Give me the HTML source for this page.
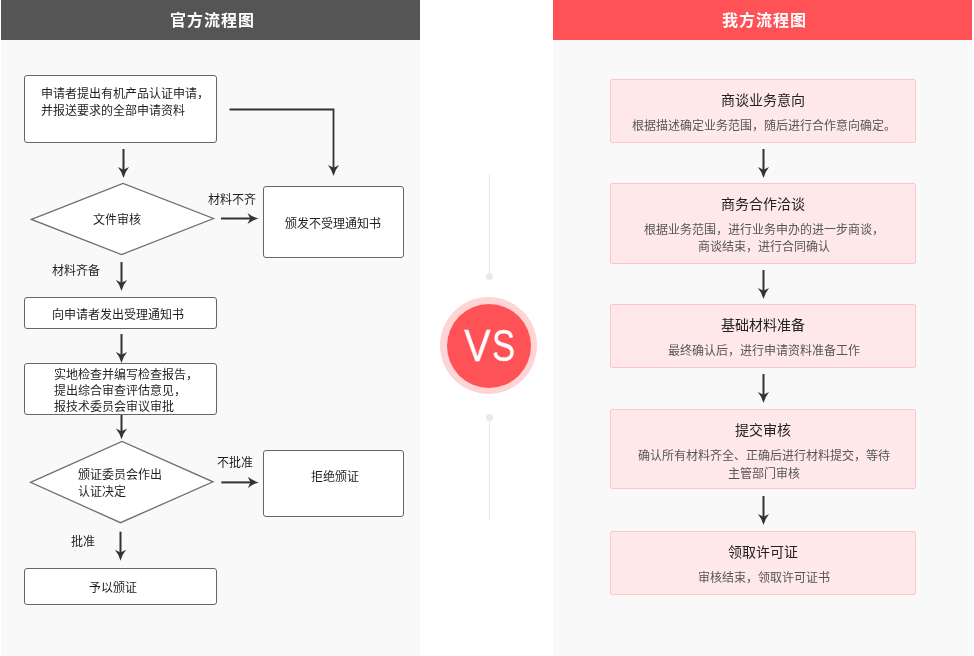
<!DOCTYPE html>
<html lang="zh-CN">
<head>
<meta charset="utf-8">
<title>流程图对比</title>
<style>
html,body{margin:0;padding:0;background:#fff;}
body{width:974px;height:656px;position:relative;overflow:hidden;font-family:"Liberation Sans","Noto Sans CJK SC",sans-serif;font-size:12px;color:#333;}
.panel{position:absolute;top:0;height:656px;width:419px;background:#f9f9f9;}
.panel.left{left:1px;}
.panel.right{left:553px;}
.hd{position:absolute;left:0;top:0;width:100%;height:40px;line-height:42px;text-align:center;text-indent:5px;color:#fff;font-size:16px;font-weight:bold;letter-spacing:1px;font-family:"Liberation Sans","Noto Sans CJK SC",sans-serif;}
.hd span{display:inline-block;text-indent:0;will-change:transform;}
.left .hd{background:#555;}
.right .hd{background:#ff5256;}
.abs{position:absolute;}
.fbox{position:absolute;box-sizing:border-box;background:#fff;border:1px solid #666;border-radius:3px;}
.t{will-change:transform;position:absolute;white-space:nowrap;font-size:12px;line-height:16px;color:#1e1e1e;}
.step{position:absolute;left:610px;width:306px;box-sizing:border-box;background:#ffe8ea;border:1px solid #ffc6c8;border-radius:2px;text-align:center;}
.step h3{will-change:transform;margin:0;font-weight:normal;font-size:14px;line-height:20px;color:#222;position:absolute;left:0;right:0;top:10px;}
.step p{will-change:transform;margin:0;font-size:12px;line-height:17px;color:#555;position:absolute;left:1px;right:-1px;top:38px;}
svg{position:absolute;left:0;top:0;}
.vs{position:absolute;left:440px;top:297px;width:97.3px;height:97.3px;border-radius:50%;background:#ffd4d5;color:#fff;}
.vs:before{content:"";position:absolute;left:6.5px;top:6.5px;width:84.3px;height:84.3px;border-radius:50%;background:#ff5256;}
.vs span{will-change:transform;position:absolute;top:24.3px;-webkit-text-stroke:.3px #fff;font-family:"Liberation Sans",sans-serif;font-size:44.5px;line-height:50px;transform-origin:0 0;}
.vs .v{left:24.2px;transform:scaleX(.9);}
.vs .s{left:52.2px;transform:scaleX(.776);}
</style>
</head>
<body>
<div class="panel left"><div class="hd"><span>官方流程图</span></div></div>
<div class="panel right"><div class="hd"><span>我方流程图</span></div></div>

<!-- left flow boxes -->
<div class="fbox" style="left:24px;top:75px;width:193px;height:68px;"></div>
<div class="fbox" style="left:263px;top:186px;width:141px;height:72px;"></div>
<div class="fbox" style="left:24px;top:297px;width:193px;height:32px;"></div>
<div class="fbox" style="left:24px;top:363px;width:193px;height:52px;"></div>
<div class="fbox" style="left:263px;top:450px;width:141px;height:67px;"></div>
<div class="fbox" style="left:24px;top:568px;width:193px;height:37px;"></div>

<svg width="974" height="656" viewBox="0 0 974 656">
  <defs>
    <g id="ad"><rect x="-1" y="0" width="2" height="22" fill="#333"/><path d="M0 29 Q-1.8 22.5 -5.6 18 L0 20.7 L5.6 18 Q1.8 22.5 0 29 Z" fill="#333"/></g>
    <g id="ar"><rect x="0" y="-1" width="30" height="2" fill="#333"/><path d="M37.5 0 Q31 -1.8 26.5 -5.6 L29.2 0 L26.5 5.6 Q31 1.8 37.5 0 Z" fill="#333"/></g>
  </defs>
  <!-- diamonds -->
  <polygon points="31.5,219.4 123,183.5 213.5,218.5 121.5,254.5" fill="#fff" stroke="#6e6e6e" stroke-width="1.3"/>
  <polygon points="30.5,482.3 122,441.4 213,481.8 120.5,522.7" fill="#fff" stroke="#6e6e6e" stroke-width="1.3"/>
  <!-- elbow -->
  <path d="M229.5 109.5 H333.5 V168" fill="none" stroke="#333" stroke-width="1.8"/>
  <path d="M333.5 176 Q331.7 169.5 327.9 165 L333.5 167.7 L339.1 165 Q335.3 169.5 333.5 176 Z" fill="#333"/>
  <!-- down arrows left -->
  <use href="#ad" x="123.5" y="149"/>
  <use href="#ad" x="121.5" y="262"/>
  <use href="#ad" x="121.5" y="334"/>
  <rect x="120.5" y="415" width="2" height="18" fill="#333"/><path d="M121.5 439.5 Q119.7 433 115.9 428.5 L121.5 431.2 L127.1 428.5 Q123.3 433 121.5 439.5 Z" fill="#333"/>
  <use href="#ad" x="120.5" y="531.7"/>
  <!-- right arrows -->
  <use href="#ar" x="221" y="218.5"/>
  <use href="#ar" x="221.3" y="482.4"/>
  <!-- right panel arrows -->
  <use href="#ad" x="763.5" y="149"/>
  <use href="#ad" x="763.5" y="270"/>
  <use href="#ad" x="763.5" y="374"/>
  <use href="#ad" x="763.5" y="496"/>
  <!-- vs lines -->
  <rect x="489" y="174" width="1" height="100" fill="#e9e9e9"/>
  <circle cx="489.5" cy="276.5" r="3.5" fill="#e9e9e9"/>
  <rect x="489" y="420" width="1" height="100" fill="#e9e9e9"/>
  <circle cx="489.5" cy="417.5" r="3.5" fill="#e9e9e9"/>
</svg>

<!-- left flow text -->
<div class="t" style="left:41px;top:86px;line-height:17px;">申请者提出有机产品认证申请，<br>并报送要求的全部申请资料</div>
<div class="t" style="left:93px;top:212px;">文件审核</div>
<div class="t" style="left:208px;top:192px;">材料不齐</div>
<div class="t" style="left:285px;top:216px;">颁发不受理通知书</div>
<div class="t" style="left:52px;top:263px;">材料齐备</div>
<div class="t" style="left:52px;top:307px;">向申请者发出受理通知书</div>
<div class="t" style="left:54px;top:367px;">实地检查并编写检查报告，<br>提出综合审查评估意见，<br>报技术委员会审议审批</div>
<div class="t" style="left:78px;top:467px;line-height:17px;">颁证委员会作出<br>认证决定</div>
<div class="t" style="left:217px;top:455px;">不批准</div>
<div class="t" style="left:311px;top:469px;">拒绝颁证</div>
<div class="t" style="left:71px;top:534px;">批准</div>
<div class="t" style="left:89px;top:580px;">予以颁证</div>

<!-- right steps -->
<div class="step" style="top:79px;height:64px;"><h3>商谈业务意向</h3><p>根据描述确定业务范围，随后进行合作意向确定。</p></div>
<div class="step" style="top:183px;height:81px;"><h3>商务合作洽谈</h3><p>根据业务范围，进行业务申办的进一步商谈，<br>商谈结束，进行合同确认</p></div>
<div class="step" style="top:304px;height:64px;"><h3>基础材料准备</h3><p>最终确认后，进行申请资料准备工作</p></div>
<div class="step" style="top:409px;height:80px;"><h3>提交审核</h3><p style="top:37px;line-height:18px;">确认所有材料齐全、正确后进行材料提交，等待<br>主管部门审核</p></div>
<div class="step" style="top:531px;height:64px;"><h3>领取许可证</h3><p>审核结束，领取许可证书</p></div>

<div class="vs"><span class="v">V</span><span class="s">S</span></div>
</body>
</html>
